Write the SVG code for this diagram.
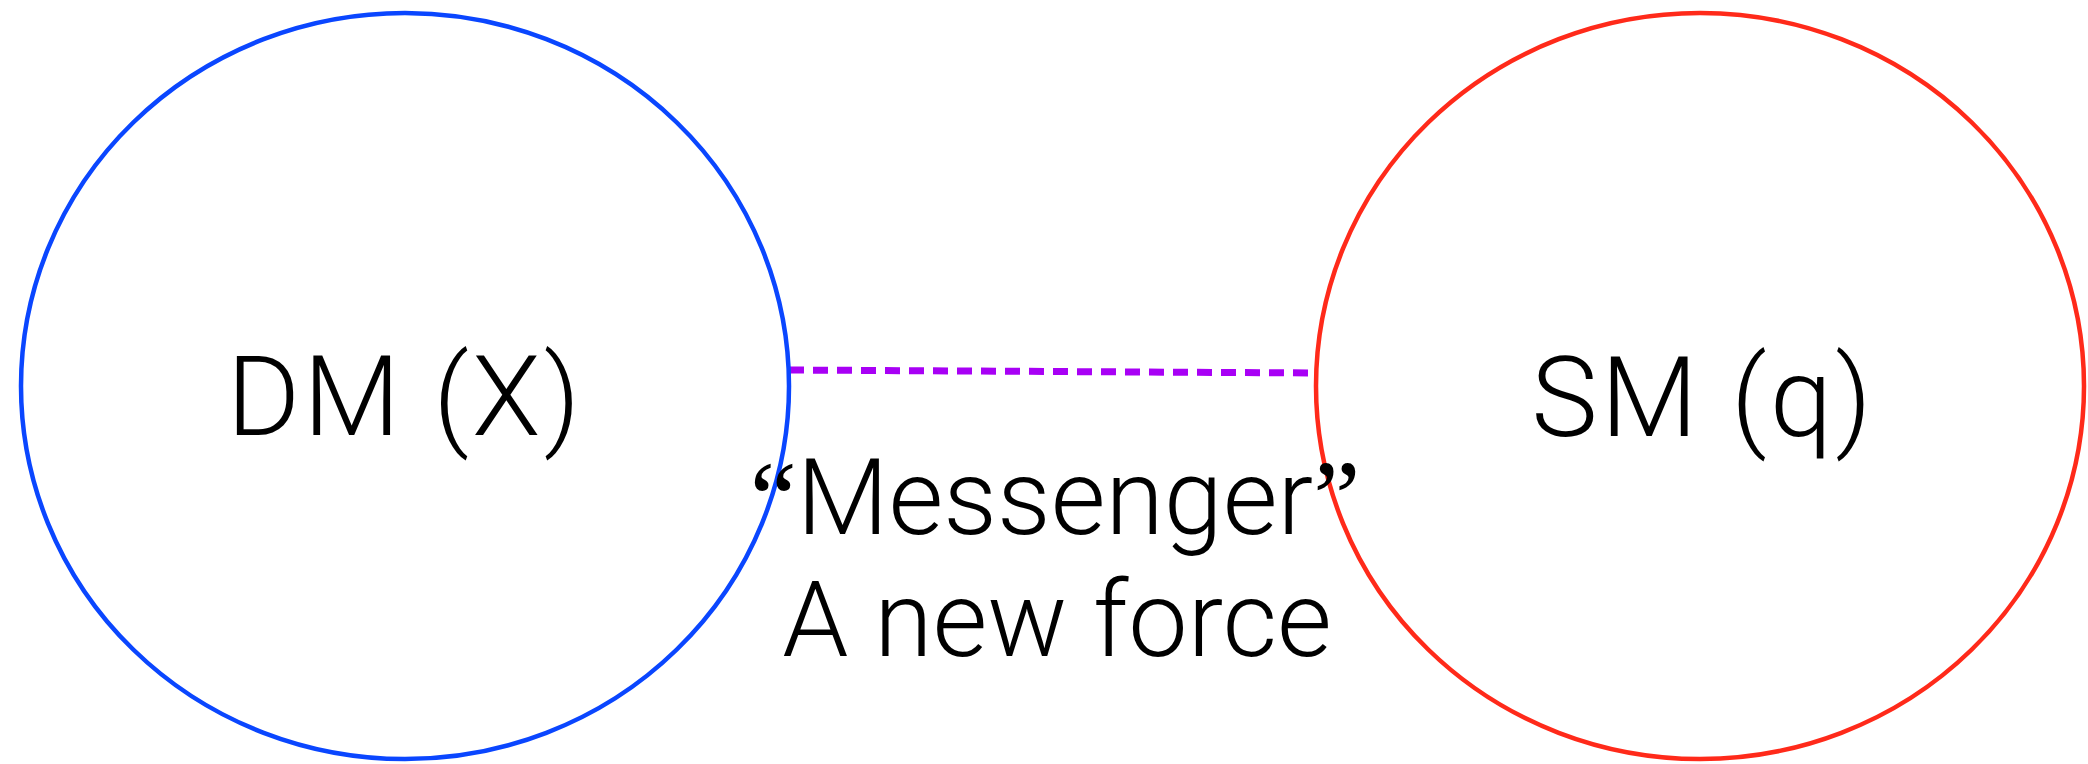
<svg xmlns="http://www.w3.org/2000/svg" width="2088" height="764" viewBox="0 0 2088 764">
<style>
.node{fill:none;stroke-width:4.5}
.lbl{font-family:Roboto,"Liberation Sans",Arial,sans-serif;font-weight:300;font-size:112px;fill:#000;text-anchor:middle;letter-spacing:3px}
.msg{font-family:Roboto,"Liberation Sans",Arial,sans-serif;font-weight:300;font-size:106px;fill:#000;text-anchor:middle}
.q{font-family:"Liberation Serif","Times New Roman",serif;font-weight:400}
.link{stroke:#A800F5;stroke-width:7;stroke-dasharray:15 9;fill:none}
</style>
<rect width="2088" height="764" fill="#fff"/>
<g id="connectors">
<line class="link" x1="789" y1="370" x2="1316" y2="373"/>
</g>
<g id="dm">
<ellipse class="node" cx="405" cy="386" rx="384" ry="373" stroke="#0A46FF"/>
<text class="lbl" x="405" y="435">DM (X)</text>
</g>
<g id="sm">
<ellipse class="node" cx="1700" cy="386" rx="384" ry="373" stroke="#FF2A1A"/>
<text class="lbl" x="1703" y="436">SM (q)</text>
</g>
<g id="label">
<text class="msg" x="1055" y="534"><tspan class="q">“</tspan>Messenger<tspan class="q">”</tspan></text>
<text class="msg" x="1057" y="656">A new force</text>
</g>
</svg>
